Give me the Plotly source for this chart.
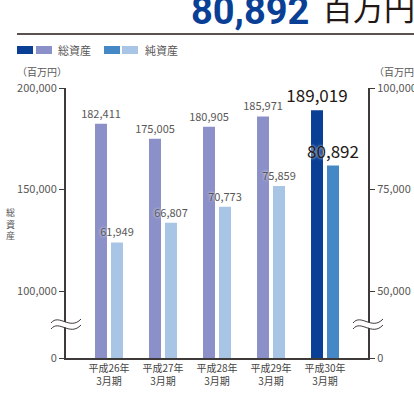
import plotly.graph_objects as go

# ---- data ----
categories = ["平成26年<br>3月期", "平成27年<br>3月期", "平成28年<br>3月期", "平成29年<br>3月期", "平成30年<br>3月期"]
total_assets = [182411, 175005, 180905, 185971, 189019]
net_assets = [61949, 66807, 70773, 75859, 80892]
left_ticks = [100000, 150000, 200000]
right_ticks = [50000, 75000, 100000]

# broken axis: visible range bottom is labelled "0"
LEFT_BOTTOM = 67000
RIGHT_BOTTOM = 33500

FONT = "Noto Sans CJK JP"
GRAY = "#595757"
DARK = "#3e3a39"

c_total = ["#8b90c8"] * 4 + ["#0a3f96"]
c_net = ["#a8c5e6"] * 4 + ["#4489c6"]
size_t = [11] * 4 + [17]
col_t = [GRAY] * 4 + ["#231815"]

W, H = 414, 394
L, R, T, B = 66, 46, 88, 36
PW, PH = W - L - R, H - T - B


def px(x):
    return (x - L) / PW


def py(y):
    return (H - B - y) / PH


fig = go.Figure()
fig.add_trace(go.Bar(
    x=categories, y=total_assets, name="総資産",
    marker=dict(color=c_total, line=dict(width=0)),
    width=0.222, offset=-0.259,
    text=[f"{v:,}" for v in total_assets], textposition="outside",
    textfont=dict(family=FONT, size=size_t, color=col_t),
    constraintext="none", cliponaxis=False, yaxis="y",
))
fig.add_trace(go.Bar(
    x=categories, y=net_assets, name="純資産",
    marker=dict(color=c_net, line=dict(width=0)),
    width=0.222, offset=0.037,
    text=[f"{v:,}" for v in net_assets], textposition="outside",
    textfont=dict(family=FONT, size=size_t, color=col_t, shadow="0px 0px 3px white"),
    constraintext="none", cliponaxis=False, yaxis="y2",
))

fig.update_layout(
    width=W, height=H,
    margin=dict(l=L, r=R, t=T, b=B, autoexpand=False),
    paper_bgcolor="white", plot_bgcolor="white",
    showlegend=False,
    barmode="overlay",
    font=dict(family=FONT, color=GRAY, size=11),
    xaxis=dict(
        type="category", range=[-0.796, 4.796], automargin=False,
        showline=True, linecolor=DARK, linewidth=2,
        ticks="", showgrid=False,
        tickfont=dict(size=10, color="#444"),
    ),
    yaxis=dict(
        range=[LEFT_BOTTOM, 200000], automargin=False,
        tickvals=[LEFT_BOTTOM] + left_ticks,
        ticktext=["0"] + [f"{v:,}" for v in left_ticks],
        showline=True, linecolor=DARK, linewidth=2,
        ticks="outside", ticklen=5, tickcolor=DARK, tickwidth=1,
        showgrid=False, zeroline=False,
        tickfont=dict(size=11, color=GRAY),
    ),
    yaxis2=dict(
        range=[RIGHT_BOTTOM, 100000], overlaying="y", side="right", automargin=False,
        tickvals=[RIGHT_BOTTOM] + right_ticks,
        ticktext=["0"] + [f"{v:,}" for v in right_ticks],
        showline=True, linecolor=DARK, linewidth=2,
        ticks="outside", ticklen=5, tickcolor=DARK, tickwidth=1,
        showgrid=False, zeroline=False,
        tickfont=dict(size=11, color=GRAY),
    ),
)

shapes = []
annotations = []

# header line
shapes.append(dict(type="line", xref="paper", yref="paper",
                   x0=px(17), x1=px(414), y0=py(34), y1=py(34),
                   line=dict(color="#231815", width=1.5)))

# header text
annotations.append(dict(xref="paper", yref="paper", x=px(311), y=py(35),
                        xanchor="right", yanchor="bottom", showarrow=False,
                        text="<b>80,892</b>",
                        font=dict(family="Roboto", size=38, color="#0a3f96")))
annotations.append(dict(xref="paper", yref="paper", x=px(320), y=py(31),
                        xanchor="left", yanchor="bottom", showarrow=False,
                        text="百万円",
                        font=dict(family=FONT, size=31, color="#231815")))

# legend
for x0, col in [(17, "#0a3f96"), (36, "#8b90c8"), (104, "#4489c6"), (122, "#a8c5e6")]:
    shapes.append(dict(type="rect", xref="paper", yref="paper",
                       x0=px(x0), x1=px(x0 + 16), y0=py(54), y1=py(46),
                       fillcolor=col, line=dict(width=0)))
for x0, label in [(56, "総資産"), (143, "純資産")]:
    annotations.append(dict(xref="paper", yref="paper", x=px(x0), y=py(50),
                            xanchor="left", yanchor="middle", showarrow=False,
                            text=label, font=dict(family=FONT, size=11, color=GRAY)))

# units
annotations.append(dict(xref="paper", yref="paper", x=px(15), y=py(72),
                        xanchor="left", yanchor="middle", showarrow=False,
                        text="（百万円）", font=dict(family=FONT, size=10, color=GRAY)))
annotations.append(dict(xref="paper", yref="paper", x=px(372), y=py(72),
                        xanchor="left", yanchor="middle", showarrow=False,
                        text="（百万円）", font=dict(family=FONT, size=10, color=GRAY)))

# vertical axis title (stacked characters)
annotations.append(dict(xref="paper", yref="paper", x=px(10), y=py(224),
                        xanchor="center", yanchor="middle", showarrow=False,
                        text="総<br>資<br>産", font=dict(family=FONT, size=9, color=GRAY)))

# axis break marks
for ax in [66, 368]:
    for dy, col, w in [(0, "white", 5), (-3, DARK, 1), (3, DARK, 1)]:
        path = f"M -15,{dy-2} C -7,{dy+8} 4,{dy-10} 15,{dy+2}"
        shapes.append(dict(type="path", xref="paper", yref="paper",
                           xsizemode="pixel", ysizemode="pixel",
                           xanchor=px(ax), yanchor=py(324),
                           path=path, line=dict(color=col, width=w)))

fig.update_layout(shapes=shapes, annotations=annotations)
fig.write_html(
    "out.html",
    config={"displayModeBar": False},
    post_script="document.body.style.margin='0';document.body.style.overflow='hidden';",
)
